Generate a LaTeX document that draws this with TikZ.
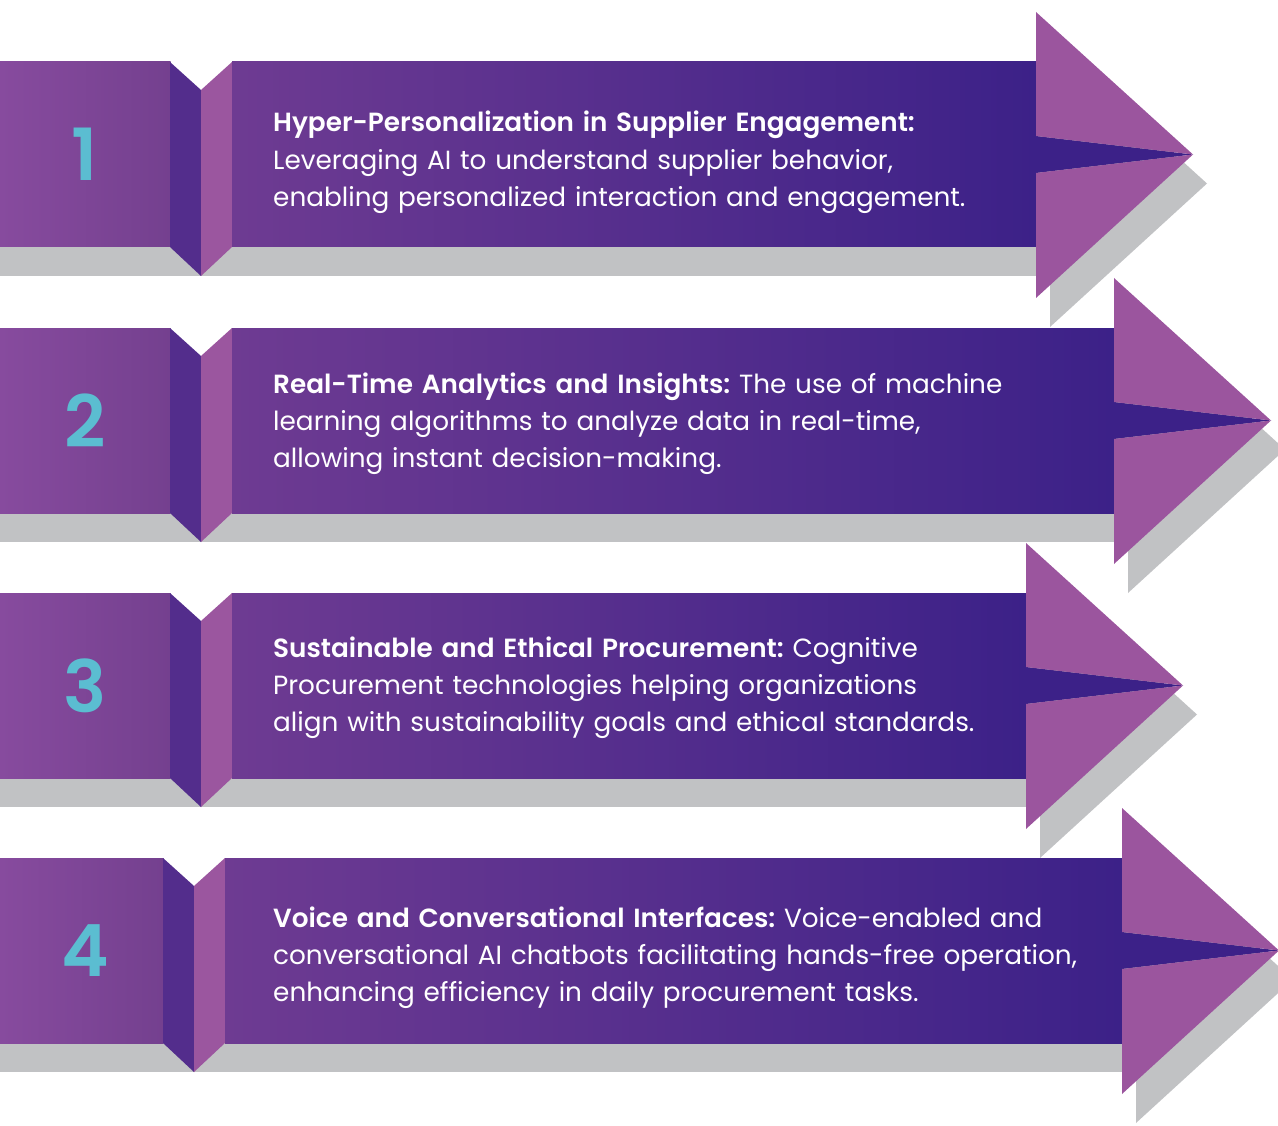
\documentclass[tikz,border=0pt]{standalone}
\usepackage{fontspec}
\setmainfont{Poppins}[BoldFont={Poppins SemiBold}]
\frenchspacing
\definecolor{leftA}{HTML}{874B9E}
\definecolor{leftB}{HTML}{74408F}
\definecolor{bandA}{HTML}{6E3B92}
\definecolor{bandB}{HTML}{3C2188}
\definecolor{folddark}{HTML}{532D8C}
\definecolor{foldlight}{HTML}{9B569F}
\definecolor{headc}{HTML}{9B559E}
\definecolor{shadowgray}{HTML}{C1C2C4}
\definecolor{numc}{HTML}{5BBDD1}
\tikzset{
  numlabel/.style={text=numc, font=\fontsize{72}{72}\selectfont\bfseries, inner sep=0pt},
  bodytext/.style={text=white, font=\fontsize{26.3}{37.3}\selectfont, align=left,
    inner sep=0pt, anchor=base west, text width=900pt},
}
% #1 top edge, #2 fold x, #3 head base x, #4 number, #5 first baseline, #6 text
\newcommand\ribbonstep[6]{%
  \pgfmathsetmacro\T{#1}\pgfmathsetmacro\B{#1+185}\pgfmathsetmacro\C{#1+92.5}%
  \pgfmathsetmacro\F{#2}\pgfmathsetmacro\H{#3}\pgfmathsetmacro\P{#3+157}%
  % drop shadow
  \fill[shadowgray] (0,\T+29) rectangle (\H+14,\B+29);
  \fill[shadowgray] (\H+14,\T-21) -- (\P+14,\C+29) -- (\H+14,\B+80) -- cycle;
  % number block
  \shade[left color=leftA,right color=leftB] (0,\T) rectangle (\F+0.5,\B);
  % fold
  \fill[folddark] (\F,\T) -- (\F+31,\T+28) -- (\F+31,\B+29) -- (\F,\B) -- cycle;
  \fill[foldlight] (\F+31,\T+28) -- (\F+62,\T) -- (\F+62,\B) -- (\F+31,\B+29) -- cycle;
  % main band
  \shade[left color=bandA,right color=bandB] (\F+62,\T) rectangle (\H+0.5,\B);
  % arrow head
  \fill[bandB] (\H,\C-18.5) -- (\P,\C) -- (\H,\C+18.5) -- cycle;
  \fill[headc] (\H,\T-50) -- (\P,\C) -- (\H,\C-18.5) -- cycle;
  \fill[headc] (\H,\C+18.5) -- (\P,\C) -- (\H,\B+51) -- cycle;
  % labels
  \node[numlabel] (num#4) at (85,\C) {#4};
  \node[bodytext] (text#4) at (273,#5) {#6};
}
\begin{document}
\begin{tikzpicture}[x=1pt,y=-1pt]
\useasboundingbox (0,0) rectangle (1278,1126);
\ribbonstep{62}{170}{1036}{1}{132}{\textbf{Hyper-Personalization in Supplier Engagement:}\\
Leveraging AI to understand supplier behavior,\\
enabling personalized interaction and engagement.}
\ribbonstep{328}{170}{1114}{2}{393}{\textbf{Real-Time Analytics and Insights:} The use of machine\\
learning algorithms to analyze data in real-time,\\
allowing instant decision-making.}
\ribbonstep{593}{170}{1026}{3}{657}{\textbf{Sustainable and Ethical Procurement:} Cognitive\\
Procurement technologies helping organizations\\
align with sustainability goals and ethical standards.}
\ribbonstep{858}{163}{1122}{4}{927}{\textbf{Voice and Conversational Interfaces:} Voice-enabled and\\
conversational AI chatbots facilitating hands-free operation,\\
enhancing efficiency in daily procurement tasks.}
\end{tikzpicture}
\end{document}
